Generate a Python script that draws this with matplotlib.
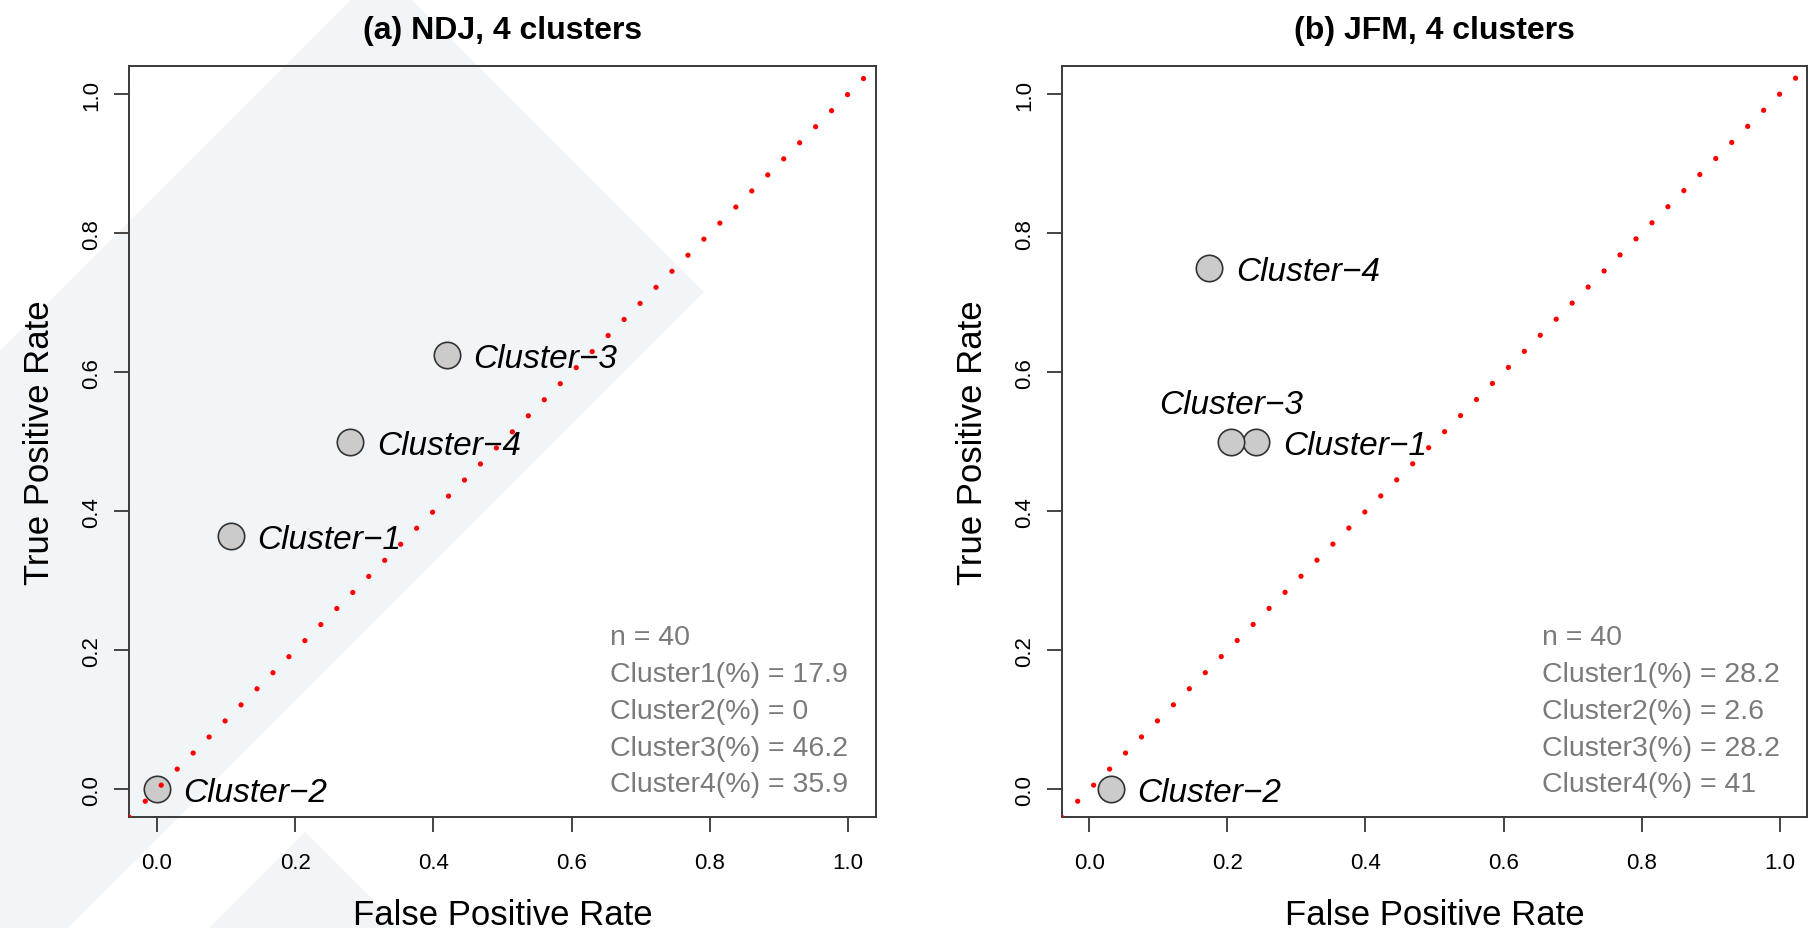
import numpy as np
import matplotlib
matplotlib.use("Agg")
import matplotlib.pyplot as plt
from matplotlib.patches import Polygon
from matplotlib.ticker import FormatStrFormatter

plt.rcParams['font.family'] = ['Liberation Sans', 'DejaVu Sans']

# ---------------- data ----------------
panel_titles = ["(a) NDJ, 4 clusters", "(b) JFM, 4 clusters"]
cluster_labels = ["Cluster\u22121", "Cluster\u22122", "Cluster\u22123", "Cluster\u22124"]

fpr_ndj = [0.107, 0.0, 0.420, 0.280]
tpr_ndj = [0.364, 0.0, 0.625, 0.500]

fpr_jfm = [0.242, 0.031, 0.205, 0.174]
tpr_jfm = [0.500, 0.0, 0.500, 0.750]

n_cases = [40, 40]
pct_ndj = ["17.9", "0", "46.2", "35.9"]
pct_jfm = ["28.2", "2.6", "28.2", "41"]

tick_values = [0.0, 0.2, 0.4, 0.6, 0.8, 1.0]
axis_limits = (-0.04, 1.04)

# label placement (style): 'right' or 'above'
label_side_ndj = ["right", "right", "right", "right"]
label_side_jfm = ["right", "right", "above", "right"]

# ---------------- figure ----------------
W, H = 1815, 929
fig = plt.figure(figsize=(W / 100, H / 100), dpi=100)

# faint background watermark (figure pixel coords, y from top)
wm_color = '#f2f5f8'
def px(pts):
    return [(x / W, 1 - y / H) for x, y in pts]
fig.patches.append(Polygon(px([(352, 0), (411, 0), (704, 293), (68, 929), (0, 929), (0, 352)]),
                           closed=True, transform=fig.transFigure, facecolor=wm_color,
                           edgecolor='none', zorder=-5))
fig.patches.append(Polygon(px([(305, 833), (209, 929), (401, 929)]),
                           closed=True, transform=fig.transFigure, facecolor=wm_color,
                           edgecolor='none', zorder=-5))

ax_h = 751 / H
ax_b = 1 - 818.3 / H
axes = [fig.add_axes([129.3 / W, ax_b, 746.4 / W, ax_h]),
        fig.add_axes([1061.7 / W, ax_b, 745.6 / W, ax_h])]

panels = [
    (fpr_ndj, tpr_ndj, pct_ndj, label_side_ndj),
    (fpr_jfm, tpr_jfm, pct_jfm, label_side_jfm),
]

spine_col = '#3a3a3a'
stats_col = '#7a7a7a'

for k, (ax, (fpr, tpr, pct, sides)) in enumerate(zip(axes, panels)):
    ax.set_facecolor('none')
    ax.set_zorder(2)
    ax.set_xlim(*axis_limits)
    ax.set_ylim(*axis_limits)

    # points
    ax.plot(fpr, tpr, linestyle='none', marker='o', markersize=19.0,
            markerfacecolor='#cbcbcb', markeredgecolor='#333333',
            markeredgewidth=1.2, zorder=3)

    # labels
    for x, y, lab, side in zip(fpr, tpr, cluster_labels, sides):
        if side == 'right':
            ax.annotate(lab, (x, y), xytext=(19.0, -8.6), textcoords='offset points',
                        ha='left', va='baseline', fontsize=24, fontstyle='italic',
                        color='black', zorder=4)
        else:
            ax.annotate(lab, (x, y), xytext=(0, 20.9), textcoords='offset points',
                        ha='center', va='baseline', fontsize=24, fontstyle='italic',
                        color='black', zorder=4)

    # diagonal reference (dotted red)
    ax.plot(axis_limits, axis_limits, color='red', lw=3.8,
            linestyle=(0, (0.01, 4.28)), dash_capstyle='round',
            solid_capstyle='round', zorder=5)

    # stats text
    lines = ["n = %d" % n_cases[k]] + ["Cluster%d(%%) = %s" % (i + 1, p) for i, p in enumerate(pct)]
    for i, line in enumerate(lines):
        ax.text(0.644, 0.2302 - i * 0.04887, line, transform=ax.transAxes,
                ha='left', va='baseline', fontsize=20.5, color=stats_col, zorder=4)

    # axes styling
    for s in ax.spines.values():
        s.set_color(spine_col)
        s.set_linewidth(1.4)
    ax.set_xticks(tick_values)
    ax.set_yticks(tick_values)
    ax.xaxis.set_major_formatter(FormatStrFormatter('%.1f'))
    ax.yaxis.set_major_formatter(FormatStrFormatter('%.1f'))
    ax.tick_params(axis='both', direction='out', length=10.8, width=1.4,
                   color='#444444', labelsize=16, labelcolor='black')
    ax.tick_params(axis='x', pad=14.5)
    ax.tick_params(axis='y', pad=8.6, labelrotation=90)
    for lab in ax.get_yticklabels():
        lab.set_verticalalignment('center')
        lab.set_horizontalalignment('right')

    ax.set_title(panel_titles[k], fontsize=23, fontweight='bold', pad=20.6)
    ax.set_xlabel("False Positive Rate", fontsize=25, va='baseline')
    ax.xaxis.set_label_coords(0.5, -0.1421)
    ax.set_ylabel("True Positive Rate", fontsize=25, va='baseline')
    ax.yaxis.set_label_coords(-0.1072, 0.5)

fig.savefig("out.png", dpi=100)
